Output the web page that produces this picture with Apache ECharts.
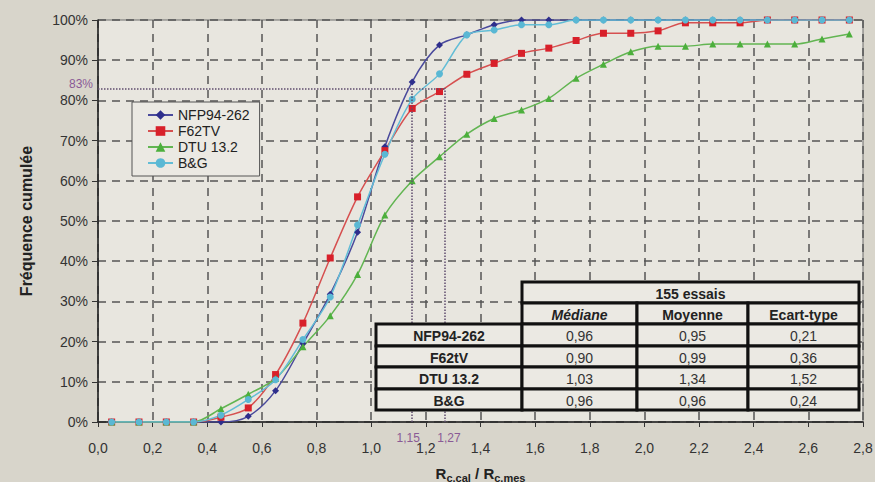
<!DOCTYPE html>
<html>
<head>
<meta charset="utf-8">
<script src="https://cdn.jsdelivr.net/npm/echarts@6/dist/echarts.min.js"></script>
<style>
  html, body { margin: 0; padding: 0; background: #d8d5cb; }
  #chart { width: 875px; height: 482px; }
</style>
</head>
<body>
<div id="chart"></div>
<script>
// abscisses des points (centres de classes)
const ratios = [0.05, 0.15, 0.25, 0.35, 0.45, 0.55, 0.65, 0.75, 0.85, 0.95,
    1.05, 1.15, 1.25, 1.35, 1.45, 1.55, 1.65, 1.75, 1.85, 1.95,
    2.05, 2.15, 2.25, 2.35, 2.45, 2.55, 2.65, 2.75];

// fréquences cumulées (%)
const nfp = [0, 0, 0, 0, 0, 1.4, 7.8, 19.5, 31.8, 47.2,
    68.5, 84.6, 93.8, 96.3, 98.8, 100, 100, 100, 100, 100,
    100, 100, 100, 100, 100, 100, 100, 100];
const f62 = [0, 0, 0, 0, 1.2, 3.5, 11.8, 24.6, 40.8, 56,
    67.5, 78, 82.2, 86.5, 89.2, 91.7, 93, 94.9, 96.7, 96.7,
    97.3, 99.3, 99.3, 99.3, 100, 100, 100, 100];
const dtu = [0, 0, 0, 0, 3.3, 6.9, 10.8, 18.7, 26.4, 36.7,
    51.5, 60, 66, 71.6, 75.5, 77.6, 80.5, 85.5, 89, 92.1,
    93.5, 93.5, 94, 94, 94, 94, 95.3, 96.5];
const bg = [0, 0, 0, 0, 1.7, 5.6, 10.5, 20.5, 31.1, 49,
    66.6, 80.3, 86.6, 96.3, 97.5, 98.8, 98.8, 100, 100, 100,
    100, 100, 100, 100, 100, 100, 100, 100];

// repères (lignes pointillées)
const markLevel = 83;
const markRatios = [1.15, 1.27];

// tableau de synthèse
const tableTitle = '155 essais';
const tableCols = ['Médiane', 'Moyenne', 'Ecart-type'];
const tableRows = ['NFP94-262', 'F62tV', 'DTU 13.2', 'B&G'];
const medianes = ['0,96', '0,90', '1,03', '0,96'];
const moyennes = ['0,95', '0,99', '1,34', '0,96'];
const ecarts = ['0,21', '0,36', '1,52', '0,24'];

const FONT = '"Liberation Sans", Arial, sans-serif';
const fmt = v => v.toFixed(2).replace('.', ',');

function pts(arr) {
    return ratios.map((x, i) => [x, arr[i]]);
}

function mkSeries(name, arr, symbol, size, color, lineColor) {
    return {
        name: name,
        type: 'line',
        data: pts(arr),
        smooth: 0.3,
        symbol: symbol,
        symbolSize: size,
        itemStyle: { color: color },
        lineStyle: { color: lineColor, width: 1.5 }
    };
}

// construction du tableau (graphic)
function buildTable() {
    const els = [];
    const x0 = 376, xc = [522, 637, 748, 859];
    const rowY = [282, 303, 324, 346, 367, 389, 410];
    const cellStyle = { fill: '#ebe9e3', stroke: '#111', lineWidth: 3 };
    function cell(x1, y1, x2, y2, txt, font) {
        els.push({
            type: 'rect', shape: { x: x1, y: y1, width: x2 - x1, height: y2 - y1 },
            style: cellStyle, z: 100
        });
        els.push({
            type: 'text', x: (x1 + x2) / 2, y: (y1 + y2) / 2 + 1, z: 101,
            style: Object.assign({ text: txt, align: 'center', verticalAlign: 'middle',
                fill: '#222', fontFamily: FONT, fontSize: 14 }, font || {})
        });
    }
    cell(xc[0], rowY[0], xc[3], rowY[1], tableTitle, { fontWeight: 'bold' });
    tableCols.forEach((c, j) => {
        cell(xc[j], rowY[1], xc[j + 1], rowY[2], c,
            { fontWeight: 'bold', fontStyle: j === 0 ? 'italic' : 'normal' });
    });
    tableRows.forEach((r, i) => {
        const y1 = rowY[i + 2], y2 = rowY[i + 3];
        cell(x0, y1, xc[0], y2, r, { fontWeight: 'bold' });
        [medianes, moyennes, ecarts].forEach((col, j) => {
            cell(xc[j], y1, xc[j + 1], y2, col[i], { fill: '#333' });
        });
    });
    return els;
}

const chart = echarts.init(document.getElementById('chart'), null, { renderer: 'svg' });

const nfpSeries = mkSeries('NFP94-262', nfp, 'diamond', 7, '#2e2e8c', '#4a4a9c');
nfpSeries.markLine = {
    silent: true,
    symbol: 'none',
    lineStyle: { type: 'dotted', color: '#5e4c6e', width: 1.5 },
    label: { color: '#8a5a96', fontFamily: FONT, fontSize: 12 },
    data: [
        [{ coord: [0, markLevel], label: { show: true, position: 'start', formatter: markLevel + '%', distance: 5, offset: [0, -4] } },
         { coord: [markRatios[1], markLevel] }],
        [{ coord: [markRatios[0], 0], label: { show: true, position: 'start', formatter: fmt(markRatios[0]), distance: 10, offset: [-4, 0] } },
         { coord: [markRatios[0], markLevel] }],
        [{ coord: [markRatios[1], 0], label: { show: true, position: 'start', formatter: fmt(markRatios[1]), distance: 10, offset: [4, 0] } },
         { coord: [markRatios[1], markLevel] }]
    ]
};

chart.setOption({
    backgroundColor: '#d8d5cb',
    animation: false,
    textStyle: { fontFamily: FONT },
    grid: {
        left: 98, right: 12, top: 20, bottom: 60,
        outerBoundsMode: 'none',
        containLabel: false,
        show: true, backgroundColor: '#e8e6df', borderColor: '#6e6e6e', borderWidth: 1
    },
    legend: {
        orient: 'vertical',
        left: 132, top: 102,
        padding: [6, 10, 6, 15],
        itemWidth: 25, itemHeight: 12, itemGap: 2,
        backgroundColor: '#ebe9e3',
        borderColor: '#555', borderWidth: 1,
        textStyle: { fontSize: 14, color: '#222', fontFamily: FONT },
        data: ['NFP94-262', 'F62TV', 'DTU 13.2', 'B&G']
    },
    xAxis: {
        type: 'value', min: 0, max: 2.8, interval: 0.2,
        name: '{b|R}{s|c.cal}{b| / R}{s|c.mes}',
        nameLocation: 'middle', nameGap: 42,
        nameTextStyle: {
            rich: {
                b: { fontSize: 15, fontWeight: 'bold', color: '#222', fontFamily: FONT },
                s: { fontSize: 11, fontWeight: 'bold', color: '#222', fontFamily: FONT, padding: [8, 0, 0, 0] }
            }
        },
        axisLine: { lineStyle: { color: '#222', width: 1.5 } },
        axisTick: { show: true, inside: false, length: 5, lineStyle: { color: '#333' } },
        axisLabel: { fontSize: 14, color: '#333', margin: 19, formatter: v => v.toFixed(1).replace('.', ',') },
        splitLine: { show: true, lineStyle: { type: [8, 6], color: '#555', width: 1.5 } }
    },
    yAxis: {
        type: 'value', min: 0, max: 100, interval: 10,
        name: 'Fréquence cumulée',
        nameLocation: 'middle', nameGap: 64,
        nameTextStyle: { fontSize: 16, fontWeight: 'bold', color: '#222', fontFamily: FONT },
        axisLine: { show: true, lineStyle: { color: '#222', width: 1.5 } },
        axisTick: { show: true, length: 6, lineStyle: { color: '#333' } },
        axisLabel: { fontSize: 14, color: '#333', margin: 10, formatter: '{value}%' },
        splitLine: { show: true, lineStyle: { type: [8, 6], color: '#555', width: 1.5 } }
    },
    series: [
        nfpSeries,
        mkSeries('F62TV', f62, 'rect', 7, '#d8202a', '#d65050'),
        mkSeries('DTU 13.2', dtu, 'triangle', 7, '#4caf3c', '#62b552'),
        mkSeries('B&G', bg, 'circle', 7, '#5ab8d4', '#62bdd6')
    ],
    graphic: buildTable()
});
</script>
</body>
</html>
